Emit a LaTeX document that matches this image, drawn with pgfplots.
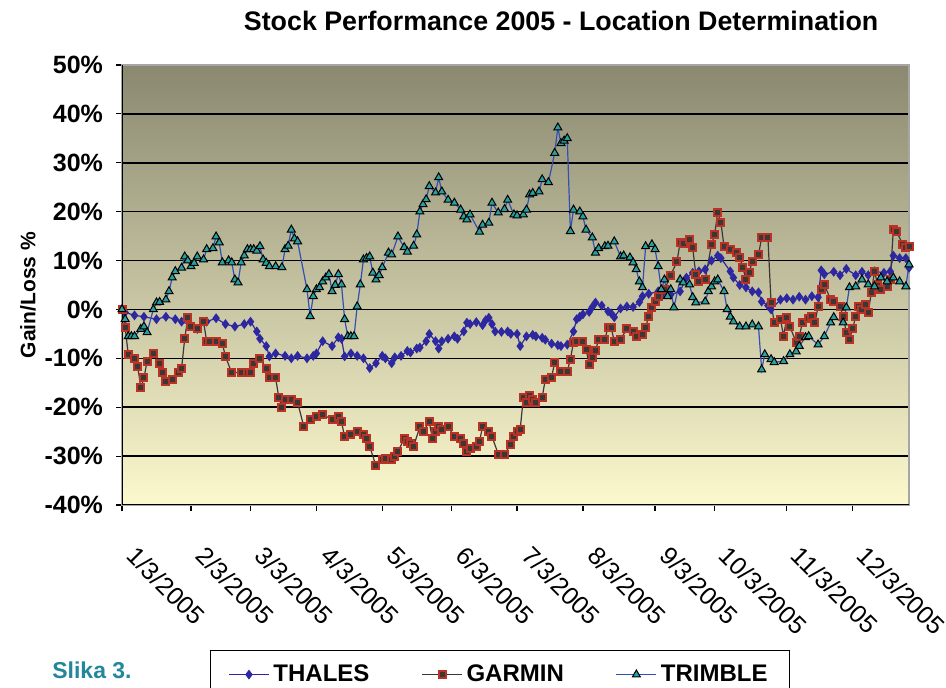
\documentclass[border=0pt]{standalone}
\usepackage{pgfplots}
\pgfplotsset{compat=1.18}
\usepackage{fontspec}
\setmainfont{Liberation Sans}
\definecolor{thales}{RGB}{46,40,160}
\definecolor{garminred}{RGB}{185,50,35}
\definecolor{garmindark}{RGB}{60,55,55}
\definecolor{trimbleline}{RGB}{50,80,180}
\definecolor{trimblefill}{RGB}{40,160,160}
\definecolor{bgtop}{RGB}{138,137,112}
\definecolor{bgmid}{RGB}{222,219,172}
\definecolor{bgbot}{RGB}{252,249,206}
\definecolor{slika}{RGB}{35,135,155}
\begin{document}
\begin{tikzpicture}
\begin{axis}[
  at={(61pt,91.5pt)}, anchor=south west,
  scale only axis, width=393.5pt, height=220pt,
  xmin=0, xmax=251, ymin=-40, ymax=50,
  ytick={-40,-30,...,50},
  xtick={0,22,41,62,83,105,126,147,170,189,212,233},
  xticklabels={1/3/2005,2/3/2005,3/3/2005,4/3/2005,5/3/2005,6/3/2005,7/3/2005,8/3/2005,9/3/2005,10/3/2005,11/3/2005,12/3/2005},
  xtick pos=left, ytick pos=left,
  tick align=outside, major tick length=3pt,
  tick style={black, line width=0.6pt},
  axis line style={draw=gray!70, line width=0.6pt},
  ymajorgrids, grid style={black, line width=0.8pt},
  axis background/.style={shade, top color=bgtop, middle color=bgmid, bottom color=bgbot},
  yticklabel={\pgfmathprintnumber[assume math mode=true]{\tick}\%},
  yticklabel style={font=\bfseries\fontsize{12.5}{14}\selectfont, xshift=-3pt},
  xticklabel style={font=\fontsize{12.5}{14}\selectfont, xshift=8pt, yshift=-12pt, rotate=-45, anchor=north west},
  ylabel={Gain/Loss \%},
  every axis y label/.style={at={(axis description cs:-0.1195,0.477)}, rotate=90, anchor=center, font=\bfseries\fontsize{10.5}{12}\selectfont},
  title={Stock Performance 2005 - Location Determination},
  every axis title/.style={at={(axis description cs:0.558,1)}, anchor=base, yshift=17.5pt, font=\bfseries\fontsize{13.4}{15}\selectfont},
  legend style={at={(axis description cs:0.4803,-0.3295)}, anchor=north, legend columns=3, draw=black, line width=0.75pt,
    font=\bfseries\fontsize{12}{14}\selectfont, inner xsep=9pt, inner ysep=5pt,
    /tikz/every even column/.append style={column sep=24pt}},
  legend image code/.code={\draw[mark repeat=2,mark phase=2] plot coordinates {(0cm,0cm) (0.35cm,0cm) (0.7cm,0cm)};},
]
\addplot[thales, line width=0.6pt, mark=diamond*, mark size=2pt, mark options={fill=thales, draw=thales}] coordinates {
(0,0)(1,-0.6)(4,-1.2)(7,-1.5)(11,-2)(14,-1.5)(17,-2)(19,-2.5)(22,-3.2)(24,-4)(27,-2.5)(30,-1.8)(33,-3)(36,-3.5)(39,-3)(41,-2.5)(43,-4.5)(44,-6)(46,-7.5)(47,-9.6)(49,-9)(52,-9.5)(54,-10)(56,-9.5)(59,-10)(61,-9.5)(62,-9)(64,-6.5)(67,-7.5)(69,-5.7)(70,-6)(71,-9.6)(73,-9)(75,-9.5)(77,-10)(79,-12)(81,-11)(83,-9.5)(84,-10)(86,-11)(87,-9.8)(89,-9.5)(91,-8.5)(92,-8.8)(94,-8)(95,-7.8)(97,-6.5)(98,-5)(100,-6.5)(101,-8)(102,-6.5)(104,-6)(106,-5.5)(107,-6)(109,-4.5)(110,-2.7)(111,-3)(113,-2.6)(115,-3.2)(116,-2.2)(117,-1.7)(118,-3)(119,-4.5)(121,-4.6)(123,-4.5)(124,-5)(126,-5)(127,-7.5)(129,-5.5)(131,-5.2)(132,-5.5)(134,-5.8)(135,-6.2)(137,-7)(139,-7.3)(140,-7.5)(142,-7.2)(144,-4.5)(145,-2)(146,-1.5)(147,-1)(149,-0.5)(150,0.5)(151,1.4)(153,0.8)(155,-0.4)(156,-0.8)(157,-1.6)(159,0.2)(161,0.6)(163,0.5)(165,1.5)(166,2.7)(168,3.2)(171,3.7)(172,2.7)(174,3.5)(175,3)(178,3.7)(180,6.5)(182,7.5)(184,7.8)(186,8.2)(188,10)(190,11)(191,10.5)(194,7.8)(195,6.5)(197,5)(199,4.5)(201,3.7)(203,3.5)(204,1.6)(206,0.8)(207,0)(210,2)(212,2.3)(214,2)(216,2.6)(218,2)(220,2.7)(222,2.5)(223,8)(224,7.2)(227,7.7)(229,7)(231,8.3)(234,7)(236,7.7)(238,7)(240,7.8)(243,7.5)(245,7.8)(246,11)(248,10.5)(250,10.5)(251,8.5)
};
\addlegendentry{THALES}
\addplot[garmindark, line width=0.6pt, mark=square*, mark size=1.75pt, mark options={fill=garmindark, draw=garminred, line width=1pt}] coordinates {
(0,0)(1,-3.7)(2,-9.2)(4,-10)(5,-11.6)(6,-16)(7,-14)(8,-10.6)(10,-9)(12,-11)(13,-13)(14,-14.7)(16,-14.3)(18,-13)(19,-12)(20,-6)(21,-1.6)(22,-3.5)(24,-4)(26,-2.5)(27,-6.5)(28,-6.5)(30,-6.5)(32,-7)(33,-9.6)(35,-13)(38,-12.8)(40,-13)(41,-13)(42,-11)(44,-10)(46,-12)(47,-14)(49,-14)(50,-18)(51,-20)(52,-18.5)(54,-18.5)(56,-19)(58,-24)(60,-22.5)(62,-22)(64,-21.5)(67,-22.5)(69,-22)(70,-23)(71,-26)(73,-25.5)(75,-25)(77,-25.5)(78,-26.5)(79,-28)(81,-32)(83,-30.6)(84,-30.5)(86,-30.6)(87,-30)(88,-29)(90,-26.5)(91,-27)(92,-27.5)(93,-28)(95,-24)(96,-25)(98,-23)(99,-26.5)(100,-25)(101,-24)(102,-24.5)(104,-24)(106,-26)(108,-26.5)(109,-27.5)(110,-29)(111,-28.5)(113,-28)(114,-27)(115,-24)(117,-25)(118,-26)(120,-29.6)(122,-29.6)(124,-27.6)(125,-26)(126,-25)(127,-24.5)(128,-18)(129,-19)(130,-17.7)(131,-18.5)(132,-19)(134,-18)(135,-14.3)(137,-13.9)(138,-10.8)(140,-12.7)(142,-12.7)(143,-10.2)(144,-6.7)(145,-6.5)(147,-6.5)(148,-8.2)(149,-11.2)(150,-9.8)(151,-8.5)(152,-6.1)(154,-6.1)(155,-3.7)(156,-3.7)(157,-6.5)(159,-6.1)(161,-4)(163,-4.5)(164,-5.5)(166,-5.1)(167,-3.7)(168,-1.4)(169,0.4)(170,1.6)(171,2.7)(173,4)(175,7)(177,9.8)(178,13.7)(179,13.5)(181,14.3)(182,12.7)(183,7.2)(184,5.7)(186,6.1)(188,13.3)(189,15.3)(190,19.8)(191,17.8)(192,12.9)(194,12.2)(196,11.6)(197,10.6)(198,8.6)(199,6.1)(200,7.6)(201,9.8)(203,11.2)(204,14.7)(206,14.7)(207,1.4)(208,-2.7)(210,-2)(211,-5.5)(212,-1.6)(213,-3.5)(215,-6.7)(216,-5.5)(217,-2.7)(219,-1.8)(220,-1.4)(221,-2.7)(222,0.6)(223,4.1)(224,5.1)(226,2)(227,1.6)(229,0.5)(230,-1.4)(231,-4.7)(232,-6.1)(233,-4)(234,-1.4)(235,0.6)(236,0)(237,1)(238,-0.6)(239,3.5)(240,7.8)(241,5)(242,4.1)(244,4.7)(245,6.1)(246,16.3)(247,16)(249,13.3)(250,12.7)(251,12.9)
};
\addlegendentry{GARMIN}
\addplot[trimbleline, line width=0.6pt, mark=triangle*, mark size=2.3pt, mark options={fill=trimblefill, draw=black, line width=0.5pt}] coordinates {
(0,0)(1,-2)(2,-5.5)(3,-5.5)(4,-5.5)(6,-4)(7,-3.5)(8,-4.7)(10,0)(11,1.4)(12,1.5)(14,2)(15,3.7)(16,6.5)(17,7.8)(19,8.5)(20,10.8)(21,10)(22,8.8)(23,9.5)(24,10.8)(26,10.2)(27,12.3)(29,12.5)(30,14.9)(31,13.7)(32,9.6)(34,10)(35,9.6)(36,6.1)(37,5.5)(38,9.6)(39,11)(40,12.3)(41,12.3)(42,12.3)(43,12)(44,12.9)(45,10.2)(46,9.5)(47,8.8)(49,8.8)(51,8.6)(52,12.3)(53,13)(54,16.3)(55,14.5)(56,13.9)(59,4.1)(60,-1.4)(61,2.7)(62,4.1)(63,4.5)(64,5.7)(65,6.5)(66,7.2)(67,3.7)(68,5)(69,7.2)(70,5.1)(71,-2)(72,-5.5)(73,-5.5)(74,-5.5)(75,0.6)(76,5.1)(77,10.2)(78,10.5)(79,10.8)(80,7.5)(81,6.1)(82,7)(83,8.6)(85,11.6)(86,11.2)(88,14.9)(90,12.7)(91,11.8)(93,13)(94,15.3)(95,20)(96,21.5)(97,22.5)(98,25.2)(100,23.9)(101,27)(102,24.1)(104,22.4)(106,21.8)(108,20.4)(109,19)(110,18.4)(111,19.4)(114,15.9)(115,17.3)(117,17.7)(118,21.8)(120,19.8)(122,20.5)(123,22.4)(125,19.4)(126,19.2)(128,19.4)(129,20.4)(130,23.5)(131,23.8)(133,24.1)(134,26.6)(136,26)(138,32)(139,37.2)(140,34)(141,34.5)(142,35)(143,16)(144,20.4)(146,20)(147,19)(148,16.3)(150,14.7)(151,11.6)(152,12.5)(154,12.9)(155,13)(157,13.9)(159,10.8)(160,11)(162,10.6)(163,9.6)(164,8.2)(165,5.7)(166,4.5)(167,12.9)(169,13.3)(170,12.3)(171,8.8)(172,4.1)(173,6.1)(174,2.7)(175,4.1)(176,0.4)(178,6.1)(179,5.5)(181,5.1)(182,2.5)(183,1.4)(186,1.6)(187,3.7)(188,4.7)(189,5.7)(190,6.1)(192,3.7)(193,0)(194,-1.5)(195,-2.5)(197,-3.5)(199,-3.5)(201,-3.1)(203,-3.5)(204,-12.3)(205,-9.2)(207,-10.2)(208,-10.8)(211,-10.6)(213,-9.2)(215,-8.6)(216,-7.5)(218,-5.7)(219,-5.5)(222,-7.2)(224,-5.5)(226,-2.7)(227,-1.6)(230,-2.7)(231,0.4)(232,4.5)(234,4.7)(236,6.1)(238,5.1)(240,4.7)(242,6.5)(244,5.7)(246,6.5)(248,5.7)(250,4.7)(251,9.2)
};
\addlegendentry{TRIMBLE}
\draw[black, line width=0.8pt] (rel axis cs:0,1) -- (rel axis cs:0,0) -- (rel axis cs:1,0);
\end{axis}
\node[font=\bfseries\fontsize{11.5}{13}\selectfont, text=slika, anchor=center] at (46pt,9pt) {Slika 3.};
\pgfresetboundingbox
\useasboundingbox (0,0) rectangle (473pt,344pt);
\end{tikzpicture}
\end{document}
